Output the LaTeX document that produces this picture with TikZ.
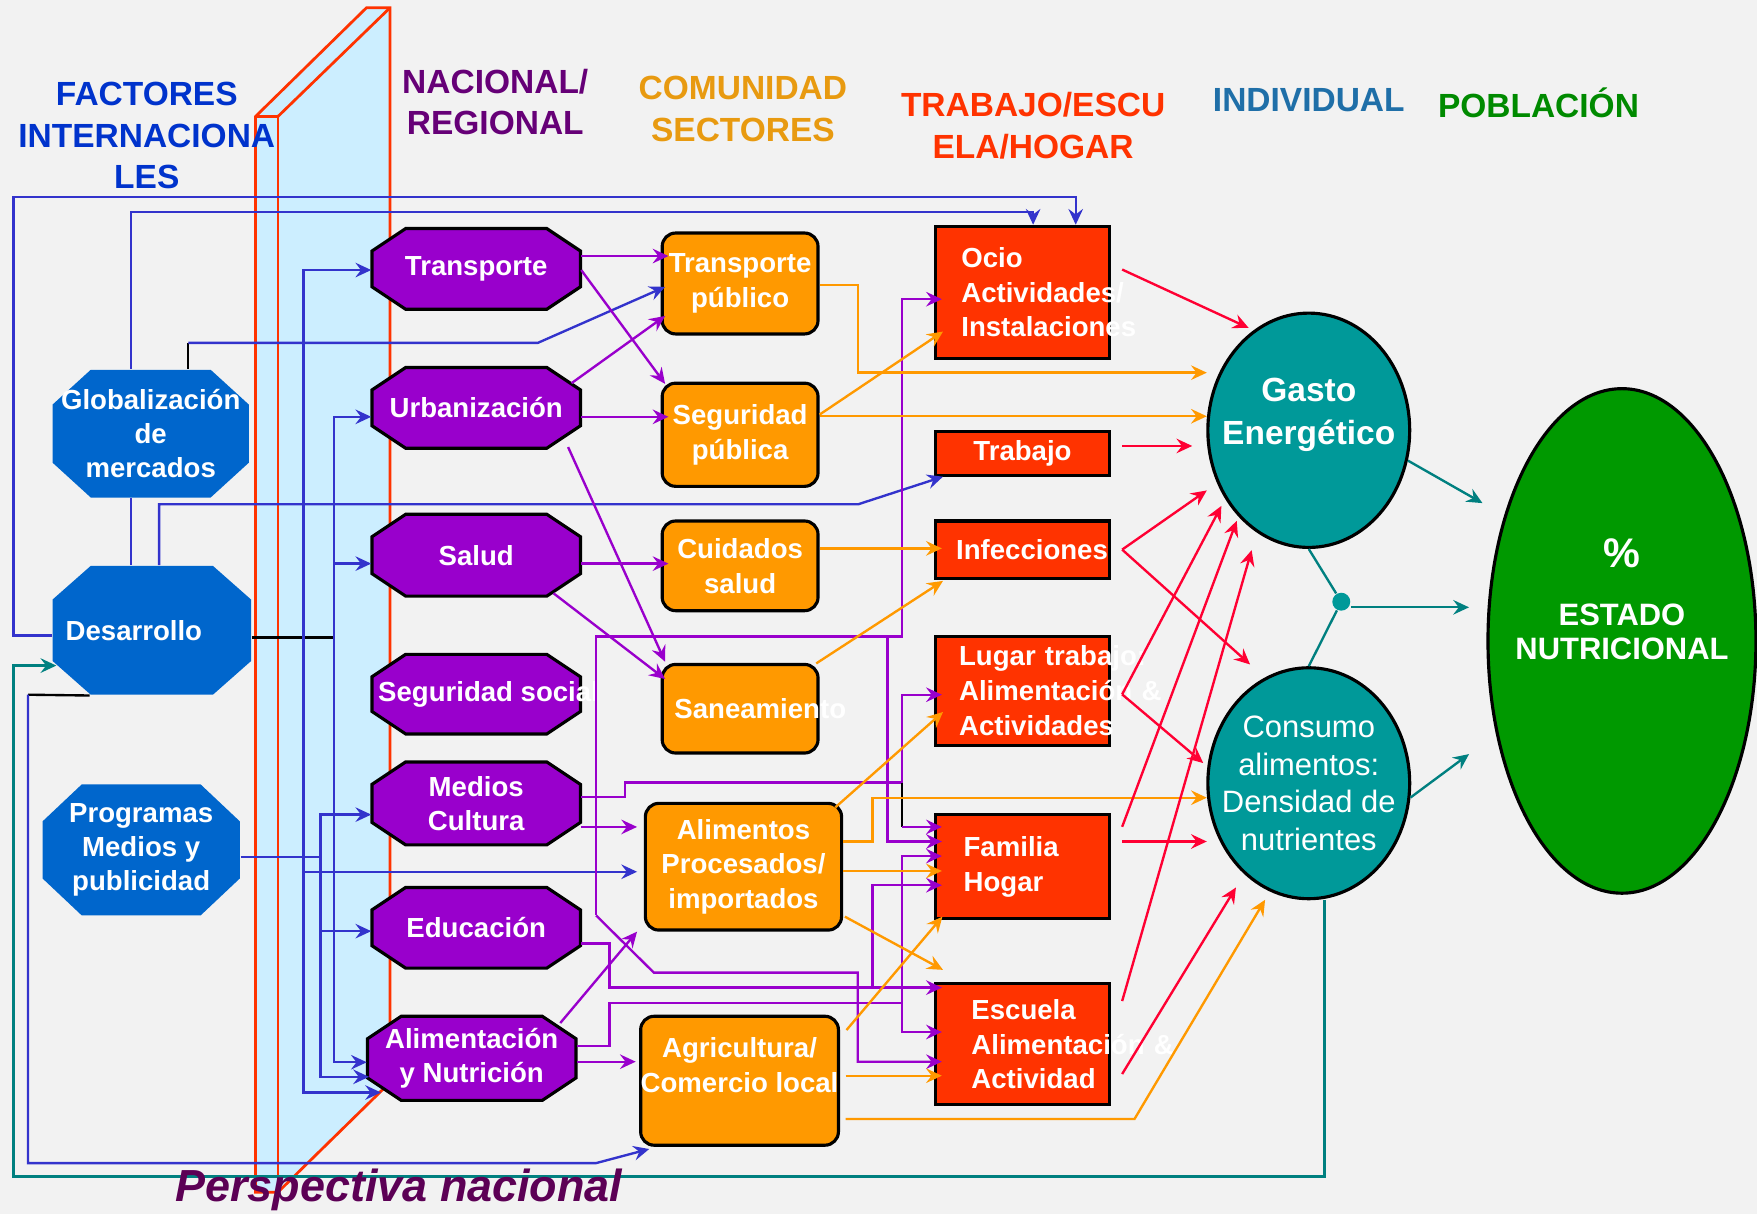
\documentclass[tikz,border=0pt]{standalone}
\usepackage{fontspec}
\setmainfont{Liberation Sans}
\usetikzlibrary{arrows.meta,calc,shapes.geometric}

\definecolor{bgGray}{HTML}{F2F2F2}
\definecolor{octBlue}{HTML}{0066CC}
\definecolor{octPurple}{HTML}{9900CC}
\definecolor{boxOrange}{HTML}{FF9900}
\definecolor{boxRed}{HTML}{FF3300}
\definecolor{ellTeal}{HTML}{009999}
\definecolor{ellGreen}{HTML}{009900}
\definecolor{lnBlue}{HTML}{3333CC}
\definecolor{lnRed}{HTML}{FF0033}
\definecolor{lnTeal}{HTML}{008080}
\definecolor{panelBlue}{HTML}{CCEEFF}
\definecolor{hdBlue}{HTML}{0033CC}
\definecolor{hdPurple}{HTML}{660077}
\definecolor{hdOrange}{HTML}{E89A10}
\definecolor{hdSteel}{HTML}{1F6FA8}
\definecolor{hdGreen}{HTML}{008A00}
\definecolor{perspPurple}{HTML}{5C0055}

\tikzset{
  glob frame/.style={fill=octBlue},
  glob text/.style={text=white, align=center, inner sep=0pt, font=\fontsize{7}{8.7}\selectfont\bfseries},
  sect frame/.style={fill=octPurple, draw=black, line width=0.8pt},
  sect text/.style={glob text},
  orbox/.style={fill=boxOrange, draw=black, line width=0.8pt, rounded corners=0.12cm, text=white, align=center, inner sep=0pt, font=\fontsize{7}{8.8}\selectfont\bfseries},
  redbox/.style={fill=boxRed, draw=black, line width=0.8pt, text=white, inner ysep=0pt, minimum width=1.55cm, font=\fontsize{7}{8.8}\selectfont\bfseries},
  hdr/.style={align=center, inner sep=0pt, font=\fontsize{8.5}{10.6}\selectfont\bfseries},
  wire/.style={line width=0.6pt},
  blu/.style={wire, draw=lnBlue},
  pur/.style={wire, draw=octPurple},
  ora/.style={wire, draw=boxOrange},
  crim/.style={wire, draw=lnRed},
  tl/.style={wire, draw=lnTeal},
  blk/.style={wire, draw=black},
  deep/.style={shorten >=-0.07cm},
}

% name, cx, cy, half width, half height, cut x, cut y, kind, text
\newcommand{\octnode}[9]{%
  \path[#8 frame] (#2-#4+#6,#3-#5) -- (#2+#4-#6,#3-#5) -- (#2+#4,#3-#5+#7)
    -- (#2+#4,#3+#5-#7) -- (#2+#4-#6,#3+#5) -- (#2-#4+#6,#3+#5)
    -- (#2-#4,#3+#5-#7) -- (#2-#4,#3-#5+#7) -- cycle;
  \node[#8 text, minimum width={2*#4*0.01cm}, minimum height={2*#5*0.01cm}] (#1) at (#2,#3) {#9};
}

\begin{document}
\begin{tikzpicture}[x=0.01cm, y=-0.01cm, >={Stealth[length=4pt,width=3.7pt,inset=1.4pt]}]
\useasboundingbox (0,0) rectangle (1568,1083);
\fill[bgGray] (0,0) rectangle (1568,1083);

% national perspective panel
\fill[panelBlue] (228,104) -- (327,7) -- (348,7) -- (348,966) -- (248,1064) -- (228,1064) -- cycle;
\draw[boxRed, line width=0.7pt] (228,1064) -- (228,104) -- (327,7) -- (348,7) -- (348,966) -- (248,1064) -- cycle;
\draw[boxRed, line width=0.7pt] (228,104) -- (248,104) -- (348,7);
\draw[boxRed, line width=0.7pt] (248,104) -- (248,1064);

% international factors
\octnode{glob}{134.5}{387}{87.5}{57}{34}{31}{glob}{Globalización\\de\\mercados}
\octnode{desa}{135.5}{562.5}{88.5}{57.5}{34}{30}{glob}{Desarrollo\hspace*{0.32cm}}
\octnode{prog}{126}{758.5}{88}{58.5}{35}{33}{glob}{Programas\\Medios y\\publicidad}

% national / regional
\octnode{transp}{425}{240}{93}{36}{30}{20}{sect}{Transporte}
\octnode{urban}{425}{364}{93}{36}{30}{20}{sect}{Urbanización}
\octnode{salud}{425}{495.5}{93}{36.5}{30}{20}{sect}{Salud}
\octnode{segsoc}{425}{619.5}{93}{35.5}{30}{20}{sect}{\makebox[0pt]{\hspace*{0.22cm}Seguridad social}}
\octnode{medios}{425}{717}{93}{37}{30}{20}{sect}{Medios\\Cultura}
\octnode{educ}{425}{828}{93}{36}{30}{20}{sect}{Educación}
\octnode{alimnut}{421}{944.5}{93}{37.5}{30}{20}{sect}{Alimentación\\y Nutrición}

% community sectors
\node[orbox, minimum width=1.39cm, minimum height=0.90cm] (tpub) at (660.5,253) {Transporte\\público};
\node[orbox, minimum width=1.39cm, minimum height=0.92cm] (segp) at (660.5,388) {Seguridad\\pública};
\node[orbox, minimum width=1.39cm, minimum height=0.80cm] (cuid) at (660.5,505) {Cuidados\\salud};
\node[orbox, minimum width=1.39cm, minimum height=0.79cm] (sanea) at (660.5,632.5) {\makebox[0pt]{\hspace*{0.36cm}Saneamiento}};
\node[orbox, minimum width=1.75cm, minimum height=1.13cm] (alim) at (663.5,773.5) {Alimentos\\Procesados/\\importados};
\node[orbox, minimum width=1.74cm, minimum height=1.15cm, text depth=0.28cm] (agri) at (660,964.5) {Agricultura/\\Comercio local};

% work / school / home
\node[redbox, inner xsep=0.23cm, text width=1.09cm, minimum height=1.18cm, align=left] (ocio) at (912.5,261) {Ocio\\Actividades/\\Instalaciones};
\node[redbox, minimum height=0.39cm] (trab) at (912.5,404.5) {Trabajo};
\node[redbox, inner xsep=0pt, minimum height=0.51cm] (infec) at (912.5,490.5) {\hspace*{0.17cm}Infecciones};
\node[redbox, inner xsep=0.21cm, text width=1.13cm, minimum height=0.97cm, align=left] (lugar) at (912.5,616.5) {\mbox{Lugar trabajo:}\\\mbox{Alimentación \&}\\Actividades};
\node[redbox, inner xsep=0.25cm, text width=1.05cm, minimum height=0.93cm, align=left] (fam) at (912.5,773.5) {Familia\\Hogar};
\node[redbox, inner xsep=0.32cm, text width=0.91cm, minimum height=1.08cm, align=left] (esc) at (912.5,932) {Escuela\\\mbox{Alimentación \&}\\Actividad};

% individual / population
\node[ellipse, fill=ellTeal, draw=black, line width=0.8pt, minimum width=1.8cm, minimum height=2.09cm, inner xsep=-0.5cm, inner ysep=0pt, text=white, align=center, font=\fontsize{8.5}{11.1}\selectfont\bfseries, text depth=0.34cm] (gasto) at (1168,384) {Gasto\\Energético};
\node[ellipse, fill=ellTeal, draw=black, line width=0.8pt, minimum width=1.8cm, minimum height=2.06cm, inner xsep=-0.5cm, inner ysep=0pt, text=white, align=center, font=\fontsize{7.85}{9.5}\selectfont] (cons) at (1168,699) {Consumo\\alimentos:\\Densidad de\\nutrientes};
\node[ellipse, fill=ellGreen, draw=black, line width=0.8pt, minimum width=2.39cm, minimum height=4.5cm, inner xsep=-0.5cm, inner ysep=0pt, text=white, align=center, font=\fontsize{7.85}{8.8}\selectfont\bfseries, text depth=0.74cm] (estado) at (1447.5,572) {{\fontsize{10.5}{10.5}\selectfont\%}\\[0.2cm]ESTADO\\NUTRICIONAL};
\node[circle, fill=ellTeal, inner sep=0pt, minimum size=0.16cm] (junc) at (1197,537) {};
\coordinate (outtop) at (1323,449);
\coordinate (outmid) at (1311,542);
\coordinate (outbot) at (1311,673);

% blue links
\draw[blu,->] (desa.west |- 0,567) -- (12,567) |- (960,176) -- (ocio.north -| 960,0);
\draw[blu,->] (glob.north -| 117,0) |- (922,189) -- (ocio.north -| 922,0);
\draw[blk] (glob.north -| 168,0) -- (168,306);
\draw[blu,->] (168,306) -- (480,306) -- ($(tpub.west |- 0,256)+(4,0)$);
\draw[blu] (glob.south -| 117,0) -- (desa.north -| 117,0);
\draw[blu,->] (desa.north -| 142,0) |- (766,450) -- ($(trab.south west)+(8,0)$);
\draw[blk] (desa.east |- 0,569) -- (298,569);
\draw[blu,->] (298,569) |- (urban.west |- 0,372);
\draw[blu,->] (298,569) |- (alimnut.west |- 0,948);
\draw[blu,->] (298,503) -- (salud.west |- 0,503);
\draw[blu,->] (271,778) |- (transp.west |- 0,241);
\draw[blu,->] (271,778) |- ($(alimnut)+(-81,30.5)$);
\draw[blu,->] (271,778) -- ($(alim.west |- 0,778)+(-6,0)$);
\draw[blu] (prog.east |- 0,765) -- (286,765);
\draw[blu,->] (286,765) |- (medios.west |- 0,727);
\draw[blu,->] (286,765) |- ($(alimnut.west |- 0,961)+(2,0)$);
\draw[blu,->] (286,831) -- (educ.west |- 0,831);
\draw[blk] (desa.south -| 80,0) -- (25,620);
\draw[blu,->] (25,620) |- (532,1038) -- ($(agri.south west)+(9,2)$);

% purple links
\draw[pur,->,deep] (transp.east |- 0,228.5) -- (tpub.west |- 0,228.5);
\draw[pur,->] (transp.east |- 0,241) -- ($(segp.north west)+(4,2)$);
\draw[pur,->] ($(urban)+(85,-22)$) -- ($(tpub.west |- 0,282)+(4,0)$);
\draw[pur,->,deep] (urban.east |- 0,372) -- (segp.west |- 0,372);
\draw[pur,->] ($(urban)+(82,35)$) -- ($(sanea.north west)+(4,-1)$);
\draw[pur,->,deep] (salud.east |- 0,503) -- (cuid.west |- 0,503);
\draw[pur,->] ($(salud)+(69,34)$) -- ($(sanea.west |- 0,606)+(4,0)$);
\draw[pur,->,deep] (532,817) -- (532,568) -| (805,267) -- (ocio.west |- 0,267);
\draw[pur,->,deep] (792,568) |- (fam.west |- 0,751);
\draw[pur,->,deep] (532,817) -- (583.5,868) -| (765.5,947.5) -- (esc.west |- 0,947.5);
\draw[pur] (medios.east |- 0,711) -- (558,711) |- (805,698.5);
\draw[pur,->,deep] (805,698.5) |- (lugar.west |- 0,620);
\draw[blk] (805,698.5) -- (805,738);
\draw[pur,->,deep] (805,738) -- (fam.west |- 0,738);
\draw[pur,->] (medios.east |- 0,738) -- ($(alim.west |- 0,738)+(-6,0)$);
\draw[pur,->,deep] (educ.east |- 0,842) -- (544,842) |- (esc.west |- 0,881.4);
\draw[pur,->,deep] (778.5,881.4) |- (fam.west |- 0,790);
\draw[pur] (alimnut.east |- 0,933.6) -- (544,933.6) |- (805,895);
\draw[pur,->,deep] (805,895) |- (fam.west |- 0,764);
\draw[pur,->,deep] (805,895) |- (esc.west |- 0,921);
\draw[pur,->] ($(alimnut)+(79,-31.5)$) -- ($(alim.south west)+(-6,0)$);
\draw[pur,->] (alimnut.east |- 0,947.5) -- ($(agri.west |- 0,947.5)+(-3,0)$);

% orange links
\draw[ora,->] (tpub.east |- 0,254.4) -- (765.5,254.4) |- ($(gasto)+(-91,-51.4)$);
\draw[ora,->] (segp.east |- 0,371.5) -- ($(gasto)+(-91,-12.5)$);
\draw[ora,->] (segp.east |- 0,370) -- ($(ocio.south west)+(8,-25.5)$);
\draw[ora,->,deep] (cuid.east |- 0,489.4) -- (infec.west |- 0,489.4);
\draw[ora,->] ($(sanea.north east)+(-3,0.5)$) -- ($(infec.south west)+(8,1)$);
\draw[ora,->] ($(alim.north east)+(-7,5)$) -- ($(lugar.south west)+(8,-31)$);
\draw[ora,->] (alim.east |- 0,751) -- (778.5,751) |- ($(cons)+(-91,12.9)$);
\draw[ora,->,deep] (alim.east |- 0,777.3) -- (fam.west |- 0,777.3);
\draw[ora,->] ($(alim.south east)+(1.5,-13.4)$) -- ($(esc.north west)+(8,-11)$);
\draw[ora,->] ($(agri.north east)+(5.8,13.7)$) -- ($(fam.south west)+(7.5,-3.4)$);
\draw[ora,->,deep] ($(agri.east |- 0,960)+(5,0)$) -- (esc.west |- 0,960);
\draw[ora,->] ($(agri.east |- 0,998.6)+(5,0)$) -- (1012.5,998.6) -- ($(cons)+(-39,104)$);

% red links
\draw[crim,->] ($(ocio.north east)+(10,40)$) -- ($(gasto)+(-53.6,-91.3)$);
\draw[crim,->] ($(trab.east)+(10,-6.5)$) -- ($(gasto)+(-104,14)$);
\draw[crim,->] ($(infec.east)+(10,0)$) -- ($(gasto)+(-91,53.7)$);
\draw[crim,->] ($(infec.east)+(10,0)$) -- ($(cons)+(-52.4,-106)$);
\draw[crim,->] ($(lugar.east)+(10,3.2)$) -- ($(gasto)+(-78,67.5)$);
\draw[crim,->] ($(lugar.east)+(10,3.2)$) -- ($(cons)+(-94.2,-18)$);
\draw[crim,->] ($(fam.east)+(10,-35.6)$) -- ($(gasto)+(-64.3,80.8)$);
\draw[crim,->] ($(fam.east)+(10,-22.5)$) -- ($(cons)+(-91,52)$);
\draw[crim,->] ($(esc.east)+(10,-38.6)$) -- ($(gasto)+(-51,107)$);
\draw[crim,->] ($(esc.east)+(10,26.5)$) -- ($(cons)+(-65,93)$);

% teal links
\draw[tl] (gasto.south) -- (junc);
\draw[tl] (cons.north) -- (junc);
\draw[tl,->] (junc.east |- 0,542) -- (outmid);
\draw[tl,->] (gasto.-17) -- (outtop);
\draw[tl,->] (cons.-8) -- (outbot);
\draw[tl,->] (cons.south -| 1182,0) |- (12,1050) -- (12,594) -- ($(desa.west)+(4,31.5)$);

% column headings
\node[hdr, text=hdBlue] (hfact) at (131,121) {FACTORES\\INTERNACIONA\\LES};
\node[hdr, text=hdPurple] (hnac) at (442,91) {NACIONAL/\\REGIONAL};
\node[hdr, text=hdOrange] (hcom) at (663,97.5) {COMUNIDAD\\SECTORES};
\node[hdr, text=boxRed] (htrab) at (922,112) {TRABAJO/ESCU\\ELA/HOGAR};
\node[hdr, text=hdSteel] (hind) at (1168,89) {INDIVIDUAL};
\node[hdr, text=hdGreen] (hpob) at (1373,92) {POBLACIÓN};
\node[inner sep=0pt, text=perspPurple, font=\fontsize{11.4}{13}\selectfont\bfseries\itshape] (persp) at (356,1062) {Perspectiva nacional};
\end{tikzpicture}
\end{document}
